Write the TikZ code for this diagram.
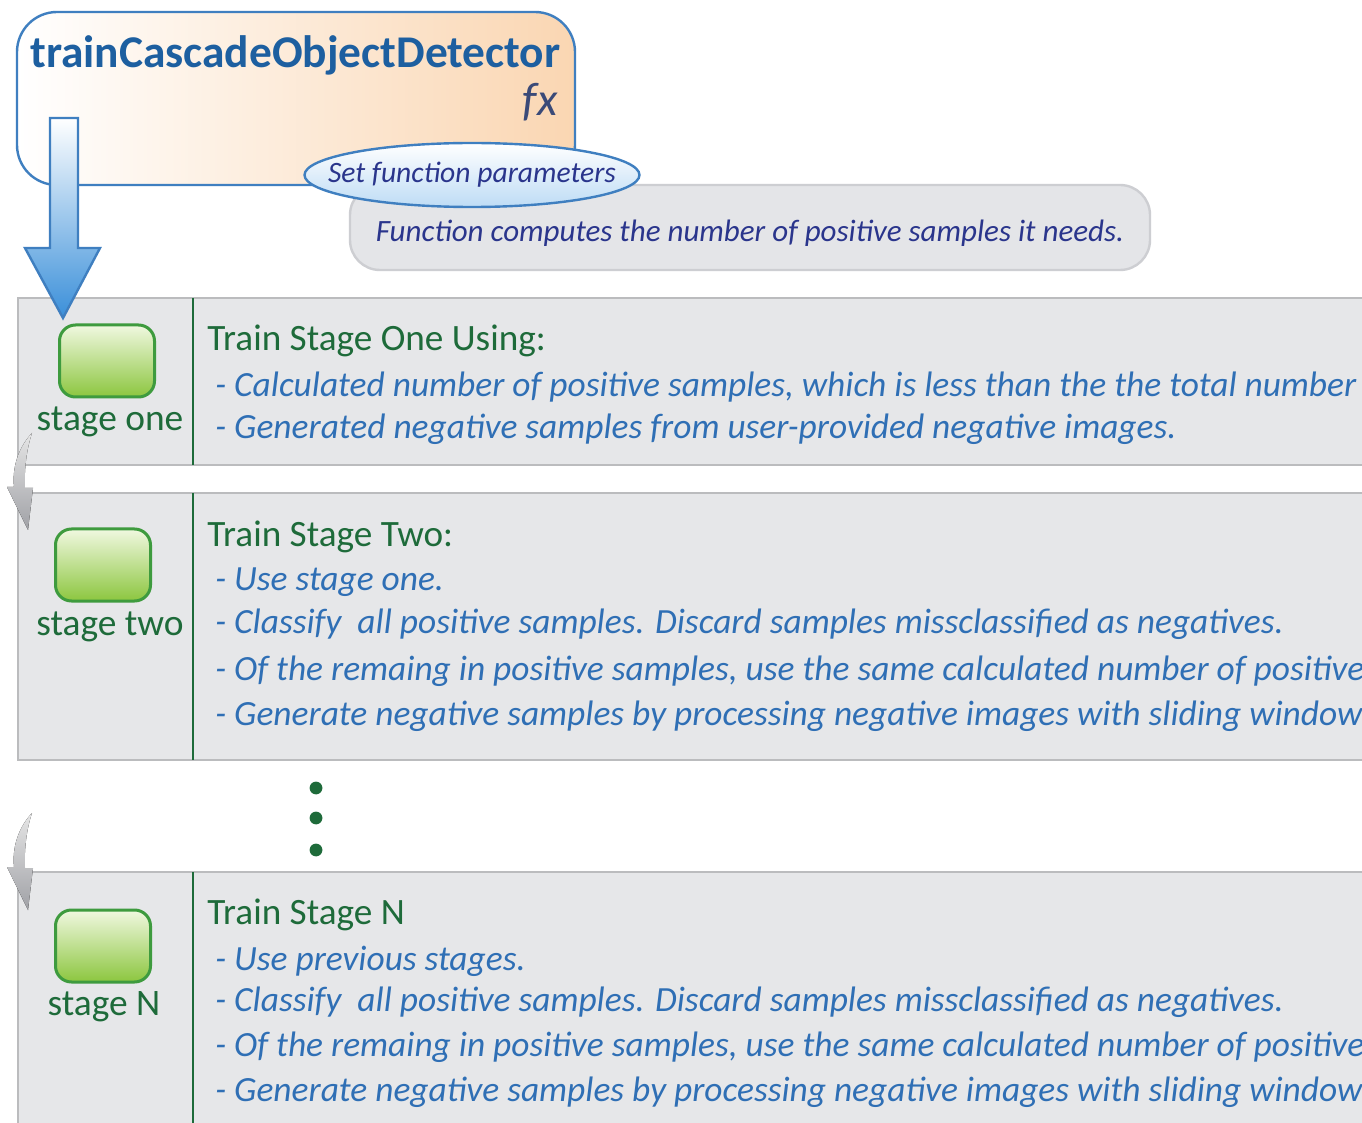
\documentclass[tikz,border=0pt]{standalone}
\usepackage{fontspec}
\setmainfont{Carlito}
\usepackage{tikz}
\usetikzlibrary{arrows.meta,shapes.geometric,positioning}
\definecolor{titleblue}{RGB}{29,95,160}
\definecolor{fxgray}{RGB}{58,74,120}
\definecolor{frameblue}{RGB}{63,127,192}
\definecolor{peach}{RGB}{250,214,178}
\definecolor{paleblue}{RGB}{190,220,245}
\definecolor{navytext}{RGB}{42,53,140}
\definecolor{notegray}{RGB}{228,229,232}
\definecolor{noteline}{RGB}{205,206,210}
\definecolor{panelgray}{RGB}{230,231,233}
\definecolor{panelline}{RGB}{187,188,190}
\definecolor{stagegreen}{RGB}{30,107,58}
\definecolor{bulletblue}{RGB}{47,111,181}
\definecolor{boxgreen}{RGB}{62,155,62}
\definecolor{lightgreen}{RGB}{240,248,224}
\definecolor{leafgreen}{RGB}{140,198,63}
\definecolor{arrowblue}{RGB}{58,143,217}
\definecolor{arrowgray}{RGB}{160,161,166}

\begin{document}
\begin{tikzpicture}[
  x=0.5pt,y=-0.5pt,
  every node/.style={inner sep=0pt},
  fnbox/.style={draw=frameblue,line width=1.2pt,rounded corners=20pt,left color=white,right color=peach},
  note/.style={draw=noteline,line width=1.2pt,fill=notegray,rounded corners=15pt},
  params/.style={ellipse,draw=frameblue,line width=1.2pt,top color=white,bottom color=paleblue,
    minimum width=167.5pt,minimum height=32pt},
  paramtext/.style={text=navytext,font=\fontsize{14.8}{15}\selectfont\itshape},
  panel/.style={draw=panelline,fill=panelgray,line width=1.2pt},
  divider/.style={draw=stagegreen,line width=1.2pt},
  stagebox/.style={draw=boxgreen,line width=1.5pt,rounded corners=8pt,top color=lightgreen,bottom color=leafgreen,
    minimum width=47.5pt,minimum height=36pt},
  stagelabel/.style={anchor=mid,text=stagegreen,font=\fontsize{18.7}{19}\selectfont},
  paneltitle/.style={anchor=mid west,text=stagegreen,font=\fontsize{18.6}{19}\selectfont},
  bulletline/.style={anchor=mid west,text=bulletblue,font=\fontsize{17.7}{18}\selectfont\itshape},
  backarrow/.style={top color=gray!20,bottom color=arrowgray}]
  \useasboundingbox (0,0) rectangle (1362,1123);
  \clip (0,0) rectangle (1362,1123);
  \fill[white] (0,0) rectangle (1362,1123);

  \draw[fnbox] (17,12) rectangle (575,185);
  \node[anchor=mid west,text=titleblue,font=\fontsize{22.7}{23}\selectfont\bfseries] (title) at (30,63) {trainCascadeObjectDetector};
  \node[anchor=mid east,text=fxgray,font=\fontsize{23.5}{24}\selectfont\itshape] (fx) at (558,111) {fx};
  \draw[note] (350,185) rectangle (1150,270);
  \node[anchor=mid,text=navytext,font=\fontsize{15.5}{16}\selectfont\itshape] (needs) at (750,237) {Function computes the number of positive samples it needs.};
  \node[params] (setpar) at (472,175) {};
  \node[paramtext] (setpartext) at (setpar) {Set function parameters};

  \draw[panel] (18,298) rectangle (1400,465);
  \draw[panel] (18,493) rectangle (1400,760);
  \draw[panel] (18,872) rectangle (1400,1140);
  \draw[divider] (193,298) -- (193,465);
  \draw[divider] (193,493) -- (193,760);
  \draw[divider] (193,872) -- (193,1140);

  \draw[frameblue,line width=1.2pt,top color=white,bottom color=arrowblue]
    (50,118) -- (78,118) -- (78,248) -- (100,248) -- (63,318) -- (25,248) -- (50,248) -- cycle;

  \node[stagebox] (one) at (107,361) {};
  \node[stagebox] (two) at (103,565) {};
  \node[stagebox] (last) at (103,946) {};
  \node[stagelabel] (onelab) at (110,426) {stage one};
  \node[stagelabel] (twolab) at (110,631) {stage two};
  \node[stagelabel] (lastlab) at (104,1011) {stage N};

  \foreach \dy in {0,380}
    \fill[backarrow,shift={(0,\dy)}] (32,433) .. controls (18,448) and (12,468) .. (14,487)
      -- (7,487) -- (28,530) -- (33,488) -- (25,488) .. controls (24,468) and (27,448) .. (32,433) -- cycle;

  \foreach \y in {788,818,850}
    \fill[stagegreen] (316,\y) circle (3.2pt);

  \node[paneltitle] (onetitle) at (207,346) {Train Stage One Using:};
  \node[paneltitle] (twotitle) at (207,542) {Train Stage Two:};
  \node[paneltitle] (lasttitle) at (207,920) {Train Stage N};

  \foreach \y/\txt in {392/{- Calculated number of positive samples, which is less than the the total number of positive samples},
                       434/{- Generated negative samples from user-provided negative images.},
                       586/{- Use stage one.},
                       629/{- Classify\ \ all positive samples. Discard samples missclassified as negatives.},
                       676/{- Of the remaing in positive samples, use the same calculated number of positive samples},
                       721/{- Generate negative samples by processing negative images with sliding window},
                       966/{- Use previous stages.},
                       1007/{- Classify\ \ all positive samples. Discard samples missclassified as negatives.},
                       1052/{- Of the remaing in positive samples, use the same calculated number of positive samples},
                       1097/{- Generate negative samples by processing negative images with sliding window}}
    \node[bulletline] at (215,\y) {\txt};
\end{tikzpicture}
\end{document}
